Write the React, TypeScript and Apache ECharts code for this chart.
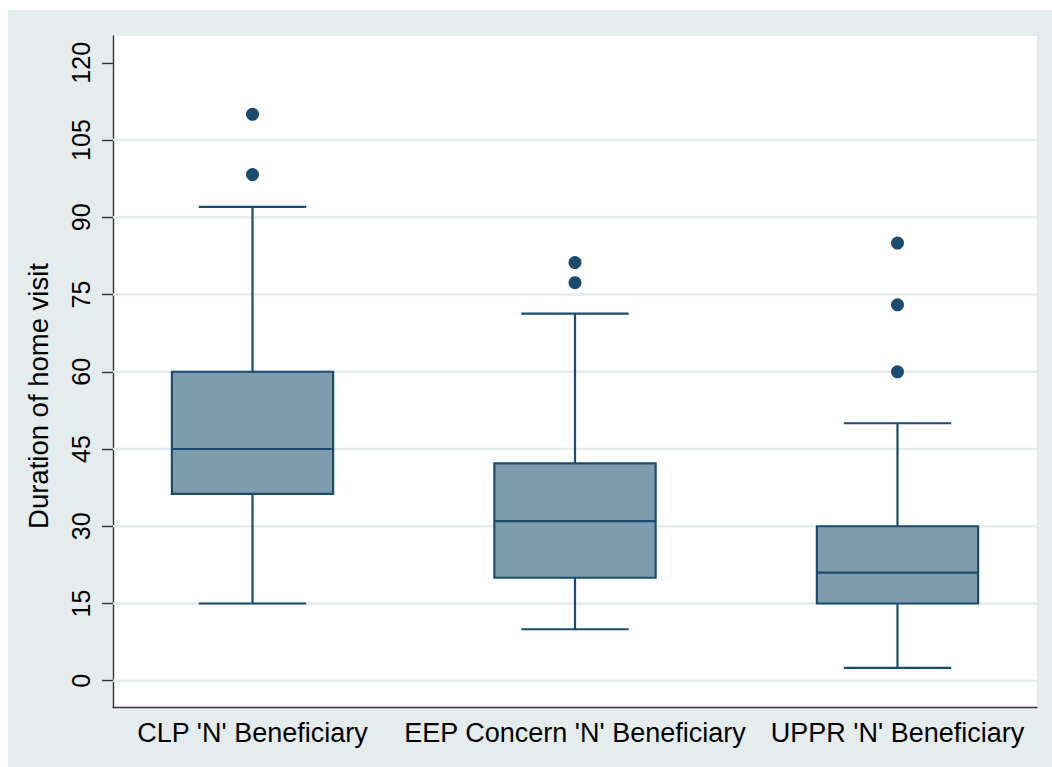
import React, { useEffect, useRef } from "react";
import * as echarts from "echarts";

const categories = ["CLP 'N' Beneficiary", "EEP Concern 'N' Beneficiary", "UPPR 'N' Beneficiary"];
// [lower whisker, Q1, median, Q3, upper whisker]
const boxStats = [
  [15, 36.3, 45, 60, 92],
  [10, 20, 31, 42.2, 71.3],
  [2.5, 15, 21, 30, 50],
];
const outliers = [
  [0, 110], [0, 98.3],
  [1, 81.2], [1, 77.3],
  [2, 85], [2, 73], [2, 60],
];
const yTicks = [0, 15, 30, 45, 60, 75, 90, 105, 120];
const gridLineValues = [0, 15, 30, 45, 60, 75, 90, 105];
const yTitle = "Duration of home visit";

const NAVY = "#1a4c72";
const FILL = "#7f9bae";
const BG = "#e4ecee";
const GRIDC = "#e4ecee";
const FONT = "'Liberation Sans', Arial, sans-serif";

export default function App() {
  const ref = useRef<HTMLDivElement>(null);
  useEffect(() => {
    if (!ref.current) return;
    const chart = echarts.init(ref.current, undefined, { renderer: "svg" });
    const boxData = boxStats.map((s, i) => [i, ...s]);
    chart.setOption({
      animation: false,
      backgroundColor: BG,
      textStyle: { fontFamily: FONT },
      grid: {
        left: 105, top: 26, right: 15, bottom: 60,
        show: true, backgroundColor: "#ffffff", borderWidth: 0,
      },
      xAxis: {
        type: "value",
        min: -0.4326,
        max: 2.4326,
        axisLine: { show: true, onZero: false, lineStyle: { color: "#333", width: 1.4 } },
        axisTick: { show: false },
        splitLine: { show: false },
        axisLabel: {
          customValues: [0, 1, 2],
          formatter: (v: number) => categories[Math.round(v)] ?? "",
          color: "#000",
          fontSize: 27,
          fontFamily: FONT,
          margin: 12,
        },
      },
      yAxis: {
        type: "value",
        min: -5.1,
        max: 125.2,
        axisLine: { show: true, onZero: false, lineStyle: { color: "#333", width: 1.4 } },
        axisTick: { show: true, length: 11, customValues: yTicks, lineStyle: { color: "#333", width: 1.4 } },
        splitLine: { show: false },
        axisLabel: {
          customValues: yTicks,
          rotate: 90,
          color: "#000",
          fontSize: 25,
          fontFamily: FONT,
          margin: 20,
        },
      },
      graphic: [
        {
          type: "text",
          x: 30,
          y: 386,
          rotation: Math.PI / 2,
          style: {
            text: yTitle,
            fill: "#000",
            font: `27.5px ${FONT}`,
            textAlign: "center",
            textVerticalAlign: "middle",
          },
        },
      ],
      series: [
        {
          type: "custom",
          z: 1,
          silent: true,
          data: gridLineValues.map((v) => [0, v]),
          renderItem: (params: any, api: any) => {
            const cs = params.coordSys;
            const p = api.coord([0, api.value(1)]);
            return {
              type: "line",
              shape: { x1: cs.x, y1: p[1], x2: cs.x + cs.width, y2: p[1] },
              style: { stroke: GRIDC, lineWidth: 2.5 },
            };
          },
        },
        {
          type: "custom",
          z: 3,
          data: boxData,
          renderItem: (params: any, api: any) => {
            const x = api.value(0);
            const lo = api.coord([x, api.value(1)]);
            const q1 = api.coord([x, api.value(2)]);
            const med = api.coord([x, api.value(3)]);
            const q3 = api.coord([x, api.value(4)]);
            const hi = api.coord([x, api.value(5)]);
            const unit = api.size([1, 0])[0];
            const bw = unit * 0.5;
            const cw = unit * 0.333;
            const cx = lo[0];
            const ls = { stroke: NAVY, lineWidth: 2.2 };
            return {
              type: "group",
              children: [
                { type: "line", shape: { x1: cx, y1: q3[1], x2: cx, y2: hi[1] }, style: ls },
                { type: "line", shape: { x1: cx, y1: q1[1], x2: cx, y2: lo[1] }, style: ls },
                { type: "line", shape: { x1: cx - cw / 2, y1: hi[1], x2: cx + cw / 2, y2: hi[1] }, style: ls },
                { type: "line", shape: { x1: cx - cw / 2, y1: lo[1], x2: cx + cw / 2, y2: lo[1] }, style: ls },
                {
                  type: "rect",
                  shape: { x: cx - bw / 2, y: q3[1], width: bw, height: q1[1] - q3[1] },
                  style: { fill: FILL, stroke: NAVY, lineWidth: 2.2 },
                },
                { type: "line", shape: { x1: cx - bw / 2, y1: med[1], x2: cx + bw / 2, y2: med[1] }, style: ls },
              ],
            };
          },
        },
        {
          type: "scatter",
          z: 4,
          data: outliers,
          symbol: "circle",
          symbolSize: 13,
          itemStyle: { color: NAVY, opacity: 1 },
        },
      ],
    });
    return () => chart.dispose();
  }, []);
  return (
    <div
      ref={ref}
      style={{ position: "fixed", left: 8, top: 10, width: 1044, height: 757 }}
    />
  );
}
